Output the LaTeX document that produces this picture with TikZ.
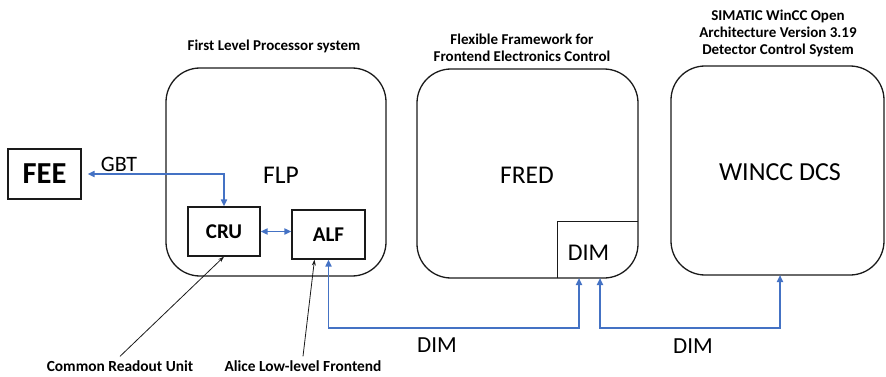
\documentclass[tikz,border=0pt]{standalone}
\usepackage{fontspec}
\setmainfont{Carlito}
\usepackage{xcolor}
\usepackage{tikz}
\usetikzlibrary{arrows.meta,calc}
\definecolor{ink}{HTML}{1A1A1A}
\definecolor{wire}{HTML}{4472C4}
\tikzset{
  box/.style={draw=ink, line width=1.2pt, inner sep=0pt, font=\bfseries\fontsize{21}{23}\selectfont},
  panel/.style={draw=ink, line width=1.3pt, rounded corners=34pt, inner sep=0pt},
  link/.style={{Triangle[length=7pt,width=6pt]}-{Triangle[length=7pt,width=6pt]}, line width=1.8pt, draw=wire},
  note/.style={-{Stealth[length=6pt,width=4pt]}, line width=0.8pt, draw=ink},
  title/.style={font=\bfseries\fontsize{15}{17}\selectfont, align=center},
  lab/.style={font=\fontsize{23}{25}\selectfont},
  labn/.style={font=\bfseries\fontsize{15.4}{17}\selectfont, inner sep=4pt}
}
\begin{document}
\begin{tikzpicture}[x=1pt,y=-1pt]
  \useasboundingbox (0,0) rectangle (886,377);

  % main blocks
  \node[box, minimum width=73pt, minimum height=50pt, font=\bfseries\fontsize{30.5}{32}\selectfont] (FEE) at (44.5,174) {FEE};
  \node[panel, minimum width=220pt, minimum height=208pt] (FLP) at (276,172) {};
  \node[panel, minimum width=221pt, minimum height=209pt] (FRED) at (527.5,173.5) {};
  \node[panel, minimum width=213pt, minimum height=209pt] (WINCC) at (777.5,170.5) {};
  \node[box, minimum width=72pt, minimum height=49pt] (CRU) at (224,231.5) {CRU};
  \node[box, minimum width=73pt, minimum height=49pt] (ALF) at (328.5,234.5) {ALF};

  % labels inside the panels
  \node[font=\fontsize{25.5}{28}\selectfont] (flplab) at (281,175) {FLP};
  \node[font=\fontsize{25.5}{28}\selectfont] (fredlab) at (527,175) {FRED};
  \node[font=\fontsize{26}{28}\selectfont] (wincclab) at (780,172) {WINCC DCS};

  % DIM corner of FRED
  \node[minimum width=80pt, minimum height=56pt, inner sep=0pt] (dimbox) at (598,250) {};
  \draw[ink, line width=1.2pt] (dimbox.south west) |- (dimbox.north east);
  \node[font=\fontsize{24}{26}\selectfont] (dimlab) at (588.5,253) {DIM};

  % titles
  \node[title] (flptitle) at (274,46) {First Level Processor system};
  \node[title] (fredtitle) at (522,48) {Flexible Framework for\\Frontend Electronics Control};
  \node[title] (wincctitle) at (778,33) {SIMATIC WinCC Open\\Architecture Version 3.19\\Detector Control System};

  % links
  \coordinate (dimA) at (579,278);
  \coordinate (dimB) at (600,278);
  \coordinate (dcsIn) at (780,275);
  \draw[link, shorten <=6pt] (FEE.east) -| (CRU.north);
  \node[lab, font=\fontsize{22}{24}\selectfont] (gbt) at (119,164) {GBT};
  \draw[link] (CRU.east) -- (CRU.east -| ALF.west);
  \draw[link] (ALF.south) |- ($(dimA)+(0,50)$) -- (dimA);
  \draw[link] (dimB) -- ++(0,50) -| (dcsIn);
  \node[lab] (dim1) at (437,345) {DIM};
  \node[lab] (dim2) at (693,346) {DIM};

  % notes
  \node[labn] (crunote) at (120,366) {Common Readout Unit};
  \node[labn] (alfnote) at (303,366) {Alice Low-level Frontend};
  \draw[note] (crunote.north) -- (CRU.south);
  \draw[note] (alfnote.north) -- ($(ALF.south)+(-14,0)$);
\end{tikzpicture}
\end{document}
